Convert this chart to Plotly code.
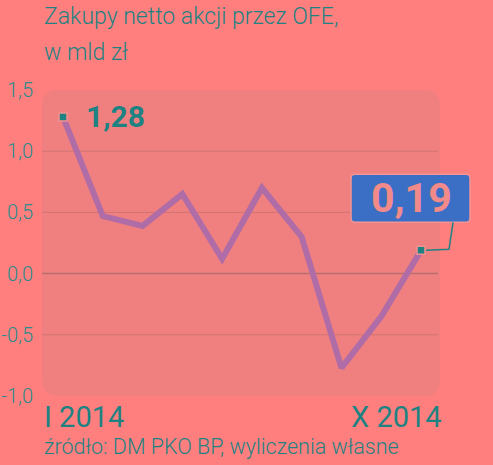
import plotly.graph_objects as go

months = ["I", "II", "III", "IV", "V", "VI", "VII", "VIII", "IX", "X"]
values = [1.28, 0.47, 0.39, 0.65, 0.12, 0.70, 0.30, -0.77, -0.35, 0.19]
y_ticks = [-1.0, -0.5, 0.0, 0.5, 1.0, 1.5]
y_ticktext = ["-1,0", "-0,5", "0,0", "0,5", "1,0", "1,5"]
grid_vals = [-0.5, 0.0, 0.5, 1.0]
title_lines = ["Zakupy netto akcji przez OFE,", "w mld zł"]
start_label = "I 2014"
end_label = "X 2014"
source_text = "źródło: DM PKO BP, wyliczenia własne"

BG = "#ff7f7f"
PLOT_BG = "#f08080"
TEAL = "#1e8282"
LINE = "#b06ca6"
BLUE = "#3b6fc6"
FONT = "Roboto, sans-serif"

W, H = 493, 465
L, R, T, B = 42, 0, 90, 69
px_per_month = 39.78
x_lo = -0.528
x_hi = x_lo + (W - L - R) / px_per_month
x_bg_hi = x_lo + 398 / px_per_month
y_lo, y_hi = -1.0, 1.5
px_per_unit = (H - T - B) / (y_hi - y_lo)

fig = go.Figure()

fig.add_trace(go.Scatter(
    x=months, y=values, mode="lines",
    line=dict(color=LINE, width=6),
    hoverinfo="skip", showlegend=False,
))
fig.add_trace(go.Scatter(
    x=[months[0], months[-1]], y=[values[0], values[-1]], mode="markers",
    marker=dict(symbol="square", size=8, color=TEAL, line=dict(color="#f59090", width=1.5)),
    hoverinfo="skip", showlegend=False,
))

rx, ry = 16 / px_per_month, 16 / px_per_unit
a0, a1, b0, b1 = x_lo, x_bg_hi, y_lo, y_hi
shapes = [dict(
    type="path", xref="x", yref="y", layer="below",
    path=(f"M {a0+rx},{b0} L {a1-rx},{b0} Q {a1},{b0} {a1},{b0+ry} L {a1},{b1-ry} "
          f"Q {a1},{b1} {a1-rx},{b1} L {a0+rx},{b1} Q {a0},{b1} {a0},{b1-ry} "
          f"L {a0},{b0+ry} Q {a0},{b0} {a0+rx},{b0} Z"),
    fillcolor=PLOT_BG, line=dict(width=0),
)]
for g in grid_vals:
    shapes.append(dict(
        type="line", xref="x", yref="y", x0=x_lo, x1=x_bg_hi - 2 / px_per_month, y0=g, y1=g,
        layer="below",
        line=dict(color="#b86e6e" if g == 0 else "#cf7474", width=1.5 if g == 0 else 1),
    ))
# value box for last point (pixel offsets anchored at the last data point)
bx0, bx1, by0, by1, r = -70, 49, 28, 76, 4
shapes.append(dict(
    type="path", xref="x", yref="y", xsizemode="pixel", ysizemode="pixel",
    xanchor=months[-1], yanchor=values[-1],
    path=(f"M {bx0+r},{by0} L {bx1-r},{by0} Q {bx1},{by0} {bx1},{by0+r} L {bx1},{by1-r} "
          f"Q {bx1},{by1} {bx1-r},{by1} L {bx0+r},{by1} Q {bx0},{by1} {bx0},{by1-r} "
          f"L {bx0},{by0+r} Q {bx0},{by0} {bx0+r},{by0} Z"),
    fillcolor=BLUE, line=dict(color="#f59494", width=1.5),
))
shapes.append(dict(
    type="path", xref="x", yref="y", xsizemode="pixel", ysizemode="pixel",
    xanchor=months[-1], yanchor=values[-1],
    path="M 5,0 L 28,1 L 32,28",
    line=dict(color=TEAL, width=1.5),
))

annotations = [
    dict(text=title_lines[0], xref="paper", yref="paper", x=0, y=1, xanchor="left", yanchor="top",
         yshift=T - 1, align="left", showarrow=False,
         font=dict(family=FONT, size=23, color=TEAL, weight=300)),
    dict(text=title_lines[1], xref="paper", yref="paper", x=0, y=1, xanchor="left", yanchor="top",
         yshift=T - 37, align="left", showarrow=False,
         font=dict(family=FONT, size=23, color=TEAL, weight=300)),
    dict(text=start_label, x=x_lo, xref="x", yref="paper", y=0, xanchor="left", yanchor="top",
         yshift=-2, showarrow=False, font=dict(family=FONT, size=29, color=TEAL, weight=400)),
    dict(text=end_label, x=x_bg_hi, xref="x", yref="paper", y=0, xanchor="right", yanchor="top",
         xshift=4, yshift=-2, showarrow=False, font=dict(family=FONT, size=29, color=TEAL, weight=400)),
    dict(text=source_text, xref="paper", yref="paper", x=0, y=0, xanchor="left", yanchor="top",
         yshift=-36, showarrow=False, font=dict(family=FONT, size=21.5, color=TEAL, weight=300)),
    dict(text="<b>" + f"{values[0]:.2f}".replace(".", ",") + "</b>", x=months[0], y=values[0],
         xanchor="left", yanchor="middle", xshift=21, showarrow=False,
         font=dict(family=FONT, size=30, color=TEAL)),
    dict(text="<b>" + f"{values[-1]:.2f}".replace(".", ",") + "</b>", x=months[-1], y=values[-1],
         xanchor="center", yanchor="middle", xshift=-10, yshift=52, showarrow=False,
         font=dict(family=FONT, size=41, color="#f28a8a")),
]

fig.update_layout(
    width=W, height=H, margin=dict(l=L, r=R, t=T, b=B, autoexpand=False),
    paper_bgcolor=BG, plot_bgcolor="rgba(0,0,0,0)",
    shapes=shapes, annotations=annotations, showlegend=False,
    xaxis=dict(type="category", range=[x_lo, x_hi], showgrid=False, zeroline=False,
               showticklabels=False, showline=False, fixedrange=True, automargin=False),
    yaxis=dict(range=[y_lo, y_hi], tickvals=y_ticks, ticktext=y_ticktext, showgrid=False,
               zeroline=False, showline=False, ticks="", ticklabelstandoff=8, automargin=False,
               tickfont=dict(family=FONT, size=20, color="#2a8c8c", weight=300), fixedrange=True),
)

fig.write_html(
    "out.html",
    config={"displayModeBar": False, "staticPlot": True},
    post_script="document.body.style.margin='0';document.body.style.padding='0';"
                "document.body.style.background='" + BG + "';",
)
